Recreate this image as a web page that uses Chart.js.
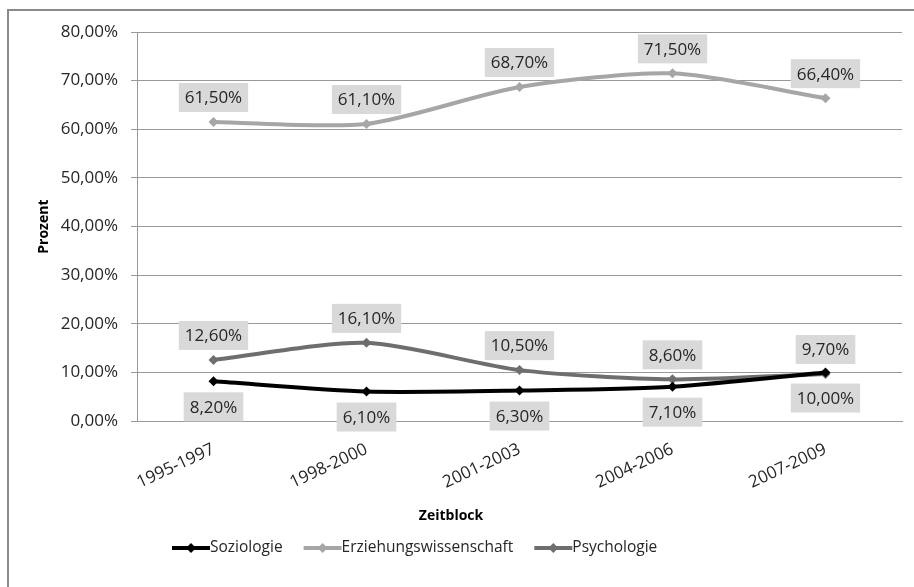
<!DOCTYPE html>
<html>
<head>
<meta charset="utf-8">
<script src="https://cdn.jsdelivr.net/npm/chart.js@4"></script>
<style>
  html, body { margin: 0; padding: 0; background: #fff; }
  #wrap { position: relative; width: 914px; height: 587px; overflow: hidden; }
  #frame { position: absolute; left: 7px; top: 9px; width: 1000px; height: 1000px;
           border-left: 2px solid #8a8a8a; border-top: 2px solid #8a8a8a; }
  canvas { position: absolute; left: 0; top: 0; }
</style>
</head>
<body>
<div id="wrap">
  <div id="frame"></div>
  <canvas id="chart" width="914" height="587"></canvas>
</div>
<script>
// Werte aus dem Diagramm (Prozent)
const categories = ['1995-1997', '1998-2000', '2001-2003', '2004-2006', '2007-2009'];
const soziologie = [8.2, 6.1, 6.3, 7.1, 10.0];
const erziehungswissenschaft = [61.5, 61.1, 68.7, 71.5, 66.4];
const psychologie = [12.6, 16.1, 10.5, 8.6, 9.7];
const seriesNames = ['Soziologie', 'Erziehungswissenschaft', 'Psychologie'];
const seriesColors = ['#000000', '#a6a6a6', '#6e6e6e'];
const labelSide = ['below', 'above', 'above'];

const FONT = '"Open Sans", sans-serif';
const fmt = v => v.toFixed(2).replace('.', ',') + '%';

// grey boxes with the values
const valueLabels = {
  id: 'valueLabels',
  afterDatasetsDraw(chart) {
    const ctx = chart.ctx;
    ctx.save();
    ctx.font = '17px ' + FONT;
    ctx.textAlign = 'center';
    ctx.textBaseline = 'middle';
    chart.data.datasets.forEach((ds, di) => {
      const meta = chart.getDatasetMeta(di);
      meta.data.forEach((pt, i) => {
        const text = fmt(ds.data[i]);
        const w = ctx.measureText(text).width + 12;
        const h = 29;
        const top = labelSide[di] === 'above' ? pt.y - 10 - h : pt.y + 11;
        ctx.fillStyle = '#d9d9d9';
        ctx.fillRect(pt.x - w / 2, top, w, h);
        ctx.fillStyle = '#262626';
        ctx.fillText(text, pt.x, top + h / 2 + 1);
      });
    });
    ctx.restore();
  }
};

// legend like Excel: line with diamond, then name
const lineLegend = {
  id: 'lineLegend',
  afterDraw(chart) {
    const ctx = chart.ctx;
    ctx.save();
    ctx.font = '15.5px ' + FONT;
    ctx.textBaseline = 'middle';
    let x = 172;
    const y = 548;
    chart.data.datasets.forEach(ds => {
      ctx.strokeStyle = ds.borderColor;
      ctx.lineWidth = 4;
      ctx.beginPath();
      ctx.moveTo(x, y);
      ctx.lineTo(x + 38, y);
      ctx.stroke();
      ctx.fillStyle = ds.borderColor;
      ctx.beginPath();
      ctx.moveTo(x + 19, y - 5);
      ctx.lineTo(x + 24, y);
      ctx.lineTo(x + 19, y + 5);
      ctx.lineTo(x + 14, y);
      ctx.closePath();
      ctx.fill();
      ctx.fillStyle = '#262626';
      ctx.fillText(ds.label, x + 38, y);
      x += 38 + ctx.measureText(ds.label).width + 21;
    });
    ctx.restore();
  }
};

const allData = [soziologie, erziehungswissenschaft, psychologie];

new Chart(document.getElementById('chart'), {
  type: 'line',
  data: {
    labels: categories,
    datasets: allData.map((d, i) => ({
      label: seriesNames[i],
      data: d,
      borderColor: seriesColors[i],
      backgroundColor: seriesColors[i],
      borderWidth: 4,
      pointStyle: 'rectRot',
      pointRadius: 5,
      pointBorderWidth: 0,
      tension: 0.25
    }))
  },
  options: {
    responsive: false,
    animation: false,
    layout: { padding: { top: 32, right: 12, bottom: 59, left: 0 } },
    plugins: {
      legend: { display: false },
      tooltip: { enabled: false },
      title: {
        display: true,
        text: 'Zeitblock',
        position: 'bottom',
        weight: 500,
        color: '#000',
        font: { family: FONT, size: 14, weight: 'bold' },
        padding: { top: 3, bottom: 4 }
      }
    },
    scales: {
      x: {
        offset: true,
        grid: { display: false, drawTicks: false, offset: true },
        border: { display: true, color: '#999' },
        ticks: {
          color: '#262626',
          font: { family: FONT, size: 17 },
          minRotation: 25,
          maxRotation: 25,
          padding: 18
        },
        afterFit(scale) { scale.height = 83; }
      },
      y: {
        min: 0,
        max: 80,
        ticks: {
          stepSize: 10,
          color: '#262626',
          font: { family: FONT, size: 17 },
          padding: 13,
          callback: v => fmt(v)
        },
        grid: { color: '#999', tickLength: 6 },
        border: { color: '#999' },
        title: {
          display: true,
          text: 'Prozent',
          color: '#000',
          font: { family: FONT, size: 14, weight: 'bold' },
          padding: { top: 36, bottom: 0 }
        },
        afterFit(scale) { scale.width = 137; }
      }
    }
  },
  plugins: [valueLabels, lineLegend]
});
</script>
</body>
</html>
